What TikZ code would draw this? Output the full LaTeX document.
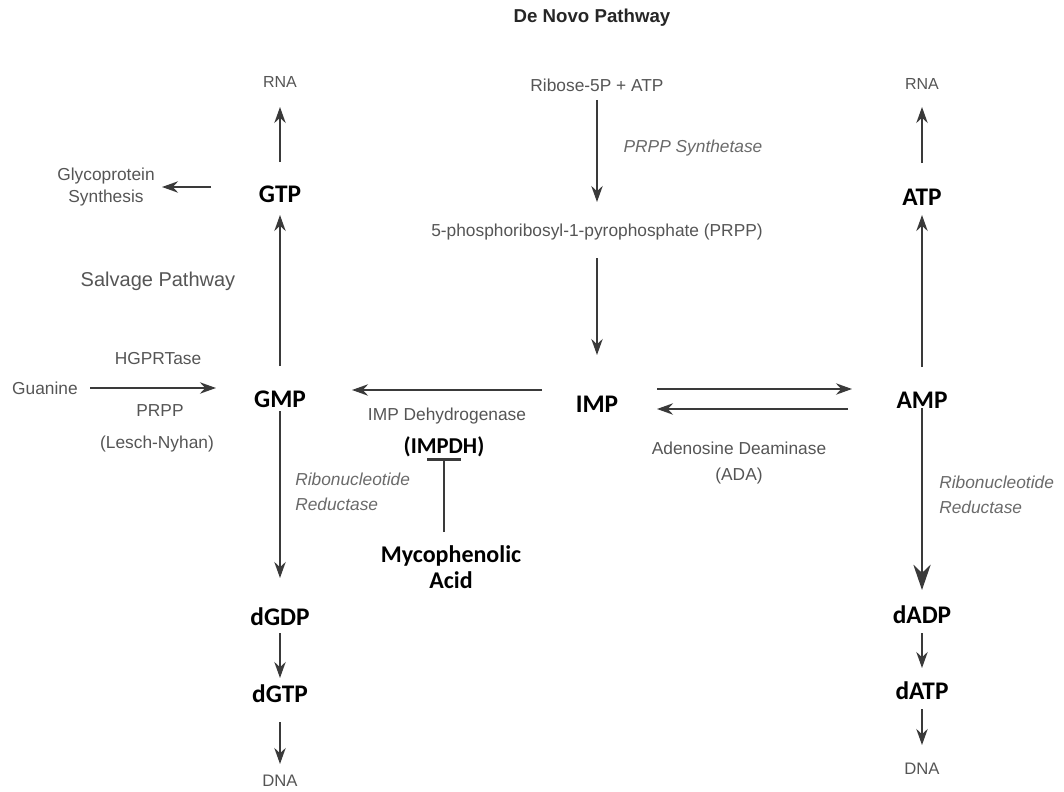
\documentclass[tikz,border=0pt]{standalone}
\usepackage{fontspec}
\setmainfont{Liberation Sans}
\newfontfamily\calibri{Carlito}
\usetikzlibrary{arrows.meta}
\definecolor{txtgrey}{HTML}{555555}
\definecolor{enzgrey}{HTML}{6A6A6A}
\definecolor{linegrey}{HTML}{3A3A3A}

\begin{document}
\begin{tikzpicture}[x=0.75pt,y=-0.75pt,
        lbl/.style={inner sep=0pt,text=txtgrey,font=\fontsize{13}{16}\selectfont},
        enz/.style={inner sep=0pt,text=enzgrey,align=left,font=\fontsize{13}{19}\selectfont\itshape},
        mol/.style={inner sep=0pt,text=black,font=\calibri\bfseries\fontsize{19}{21}\selectfont},
        arr/.style={draw=linegrey,line width=1.5pt,-{Stealth[length=12pt,width=8.5pt]}},
        inhib/.style={draw=linegrey,line width=1.2pt,-{Bar[width=25pt,line width=2pt]}}]
        \useasboundingbox (0,0) rectangle (1064,792);

        % Nodes
        \node[inner sep=0pt,text=black!85,font=\bfseries\fontsize{14}{16}\selectfont] (denovo) at (592,18) {De Novo Pathway};
        \node[lbl] (ribose) at (597,85) {Ribose-5P + ATP};
        \node[enz] (prpps) at (693,148) {PRPP Synthetase};
        \node[lbl] (prpp) at (597,232) {5-phosphoribosyl-1-pyrophosphate (PRPP)};
        \node[mol] (imp) at (597,404) {IMP};

        \node[lbl,font=\fontsize{12}{14}\selectfont] (rnaG) at (280,82) {RNA};
        \node[mol] (gtp) at (280,194) {GTP};
        \node[lbl,align=center,font=\fontsize{13}{16.5}\selectfont] (glyco) at (106,187) {Glycoprotein\\Synthesis};
        \node[lbl,font=\fontsize{15}{18}\selectfont] (salvage) at (158,281) {Salvage Pathway};
        \node[lbl] (hgprt) at (158,359) {HGPRTase};
        \node[lbl] (guanine) at (45,388) {Guanine};
        \node[lbl] (prppS) at (160,411) {PRPP};
        \node[lbl] (lesch) at (157,444) {(Lesch-Nyhan)};
        \node[mol] (gmp) at (280,399) {GMP};
        \node[enz,anchor=west] (rnrG) at (295,492) {Ribonucleotide\\Reductase};
        \node[mol] (dgdp) at (280,617) {dGDP};
        \node[mol] (dgtp) at (280,694) {dGTP};
        \node[lbl,font=\fontsize{12.5}{14}\selectfont] (dnaG) at (280,781) {DNA};

        \node[lbl] (impdhlbl) at (447,416) {IMP Dehydrogenase};
        \node[mol,font=\calibri\bfseries\fontsize{17}{20}\selectfont] (impdh) at (444,447) {(IMPDH)};
        \node[mol,align=center,font=\calibri\bfseries\fontsize{18}{19.5}\selectfont] (myco) at (451,567) {Mycophenolic\\Acid};

        \node[lbl,align=center,font=\fontsize{13}{20}\selectfont] (ada) at (739,463) {Adenosine Deaminase\\(ADA)};

        \node[lbl,font=\fontsize{12}{14}\selectfont] (rnaA) at (922,84) {RNA};
        \node[mol] (atp) at (922,197) {ATP};
        \node[mol] (amp) at (922,400) {AMP};
        \node[enz,anchor=west] (rnrA) at (939,495) {Ribonucleotide\\Reductase};
        \node[mol] (dadp) at (922,615) {dADP};
        \node[mol] (datp) at (922,691) {dATP};
        \node[lbl,font=\fontsize{12.5}{14}\selectfont] (dnaA) at (922,769) {DNA};

        % Edges
        \foreach \a/\b/\s/\e in {ribose/prpp/15/30, prpp/imp/26/49,
                gmp/gtp/33/21, gtp/rnaG/32/25, gmp/dgdp/12/39, dgdp/dgtp/16/16, dgtp/dnaG/28/17,
                amp/atp/33/18, atp/rnaA/34/23, dadp/datp/18/23, datp/dnaA/18/24} {
            \draw[arr,shorten <=\s*0.75pt,shorten >=\e*0.75pt] (\a.center) -- (\b.center);
        }
        \draw[arr,-{Stealth[length=19pt,width=13pt]},shorten <=6pt,shorten >=18.75pt] (amp.center) -- (dadp.center);

        \draw[arr,shorten <=51.75pt,shorten >=42pt] (glyco.center -| gtp.center) -- (glyco.center);
        \draw[arr,shorten <=33.75pt,shorten >=48pt] (guanine.center) -- (guanine.center -| gmp.center);

        \draw[arr,shorten <=41.25pt,shorten >=54pt] ([yshift=10.5pt]imp.center) -- ([yshift=10.5pt]imp.center -| gmp.center);
        \draw[arr,shorten <=45pt,shorten >=52.5pt] ([yshift=11.25pt]imp.center) -- ([yshift=11.25pt]imp.center -| amp.center);
        \draw[arr,shorten <=55.5pt,shorten >=45pt] ([yshift=-3.75pt]imp.center -| amp.center) -- ([yshift=-3.75pt]imp.center);

        \draw[inhib,shorten <=26.25pt,shorten >=8.25pt] (impdh.center |- myco.center) -- (impdh.center);
\end{tikzpicture}
\end{document}
